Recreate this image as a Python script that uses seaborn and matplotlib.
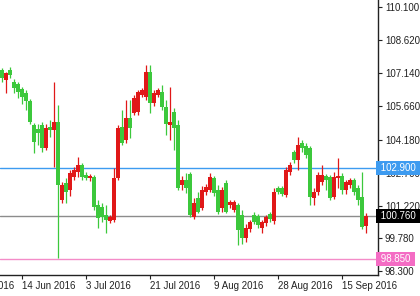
import matplotlib
matplotlib.use("Agg")
import matplotlib.pyplot as plt
import matplotlib.transforms as mtransforms
import numpy as np
import pandas as pd
import seaborn as sns

# ---- data (USD/JPY daily candles) ----
opens = [107.29,106.84,107.29,106.75,106.66,106.44,106.26,105.90,104.83,104.65,
         104.83,103.81,104.74,104.61,104.97,101.48,102.24,101.93,102.51,102.73,
         103.05,102.60,102.47,102.51,101.26,101.17,100.81,100.55,100.59,102.47,
         104.74,104.16,105.14,105.37,105.41,106.17,106.08,107.20,105.81,106.17,
         106.31,105.64,104.83,105.41,104.83,102.15,102.38,102.65,100.72,101.57,
         101.13,101.84,101.93,102.47,101.93,101.13,102.24,101.26,101.04,101.26,
         100.81,99.79,100.19,100.81,100.77,100.23,100.46,100.86,100.55,102.02,
         102.02,101.71,102.73,103.63,103.27,104.03,103.90,103.81,101.57,101.84,
         102.29,102.56,102.51,101.62,102.47,102.56,101.93,102.15,102.38,102.02,
         101.62,100.32]
highs = [107.38,107.20,107.42,106.89,106.75,106.53,106.39,105.99,104.92,104.88,
         104.97,104.88,105.05,106.75,105.73,102.29,102.47,102.82,102.96,103.40,
         103.14,102.73,102.65,102.60,101.48,101.35,101.26,100.81,102.91,104.83,
         105.50,105.95,105.95,106.17,106.39,106.48,107.51,107.51,106.39,106.48,
         106.62,105.95,106.53,105.59,105.05,102.56,102.69,102.73,101.57,101.84,
         102.11,102.20,102.69,102.56,102.15,102.06,102.38,101.48,101.48,101.35,
         101.04,100.41,100.59,100.95,100.86,100.59,100.81,100.95,102.02,102.11,
         102.11,102.96,103.18,103.72,104.30,104.16,104.03,103.90,102.02,102.73,
         103.05,102.65,102.60,102.73,103.36,102.69,102.38,102.47,102.47,102.15,
         102.73,100.90]
lows = [106.75,106.26,106.93,106.26,106.04,105.77,105.50,104.88,103.58,103.94,
        103.63,103.72,104.30,102.96,98.90,101.35,101.35,101.66,102.38,102.51,
        102.38,102.38,102.33,101.04,100.23,100.50,100.01,100.46,100.50,102.38,
        103.94,104.03,104.25,105.28,105.28,106.08,105.95,105.37,105.68,106.08,
        105.50,104.39,104.16,103.72,101.93,101.93,101.80,100.72,100.64,100.90,
        101.04,101.71,101.84,101.66,100.86,100.95,100.90,101.13,100.95,99.48,
        99.52,99.61,100.06,100.41,100.23,100.01,100.32,100.50,100.41,101.75,
        101.66,101.62,102.60,103.14,102.82,103.63,103.36,101.26,101.26,101.71,
        102.15,101.93,101.48,101.53,102.02,101.75,101.75,102.02,101.71,101.26,
        100.19,100.01]
closes = [106.93,107.15,107.06,106.48,106.31,106.08,105.90,104.97,104.07,104.48,
          103.81,104.70,104.61,104.97,102.15,102.15,101.84,102.69,102.82,103.05,
          102.51,102.47,102.56,101.17,100.68,100.72,100.59,100.72,102.47,104.70,
          104.03,105.14,104.70,106.04,106.31,106.39,107.20,105.81,106.26,106.39,
          105.64,104.88,104.97,104.70,102.02,102.38,102.02,100.81,101.35,100.95,
          101.93,102.06,102.51,101.80,100.95,101.93,100.95,101.39,101.39,100.15,
          99.79,100.23,100.50,100.50,100.37,100.50,100.72,100.64,101.84,101.84,
          101.75,102.82,103.05,103.27,103.94,103.81,103.49,101.62,101.84,102.60,
          102.60,102.38,101.57,102.51,102.56,101.93,102.29,102.38,101.84,101.48,
          100.28,100.76]

date_tick_bars = [-11, 5, 21, 37, 53, 69, 85]
date_tick_labels = ["26 May 2016", "14 Jun 2016", "3 Jul 2016", "21 Jul 2016",
                    "9 Aug 2016", "28 Aug 2016", "15 Sep 2016"]
price_ticks = [110.100, 108.620, 107.140, 105.660, 104.180, 102.700,
               101.220, 99.780, 98.300]

level_values = [102.900, 100.760, 98.850]
level_line_colors = ["#3d9bf0", "#8c8c8c", "#f48cc8"]
level_box_colors = ["#3d9bf0", "#000000", "#f46cc4"]

UP = "#e01818"
DOWN = "#3cc83c"

# ---- build frame ----
df = pd.DataFrame({"bar": np.arange(len(opens)), "open": opens, "high": highs,
                   "low": lows, "close": closes})
df["up"] = df["close"] >= df["open"]
df["color"] = np.where(df["up"], UP, DOWN)
df["bottom"] = df[["open", "close"]].min(axis=1)
df["height"] = (df["close"] - df["open"]).abs().clip(lower=0.05)

sns.set_theme(style="white")
plt.rcParams["font.family"] = ["Liberation Sans", "DejaVu Sans"]

fig = plt.figure(figsize=(4.2, 2.96), dpi=100)
ax = fig.add_axes([0.0, 21 / 296, 378 / 420, 1 - 21 / 296])

# wicks
ax.vlines(df["bar"], df["low"], df["high"], colors=df["color"], linewidth=0.9, zorder=2)
# bodies
ax.bar(df["bar"], df["height"], bottom=df["bottom"], width=0.78,
       color=df["color"], linewidth=0, zorder=3)

# horizontal levels
for v, c in zip(level_values, level_line_colors):
    ax.axhline(v, color=c, linewidth=1.0, zorder=1)

ax.set_xlim(-0.5, 94)
ax.set_ylim(98.136, 110.41)

# spines
for s in ["left", "top"]:
    ax.spines[s].set_visible(False)
for s in ["right", "bottom"]:
    ax.spines[s].set_visible(True)
    ax.spines[s].set_color("#222222")
    ax.spines[s].set_linewidth(1.0)

ax.yaxis.tick_right()
ax.set_yticks(price_ticks)
ax.set_yticklabels([f"{t:.3f}" for t in price_ticks])
ax.tick_params(axis="y", which="both", right=True, left=False, length=3,
               width=0.8, color="#222222", pad=2, labelsize=7, labelcolor="#222222",
               direction="out")

vis_bars = [b for b in date_tick_bars if b >= 0]
vis_labels = [l for b, l in zip(date_tick_bars, date_tick_labels) if b >= 0]
ax.set_xticks(vis_bars)
ax.set_xticklabels(vis_labels)
ax.tick_params(axis="x", which="both", bottom=True, length=3, width=0.8,
               color="#222222", pad=1.5, labelsize=7, labelcolor="#222222",
               direction="out")
for lbl in ax.get_xticklabels():
    lbl.set_horizontalalignment("left")

# partially visible label left of the plot
for b, l in zip(date_tick_bars, date_tick_labels):
    if b < 0:
        ax.annotate(l, xy=(b, 0), xycoords=("data", "axes fraction"),
                    xytext=(0, -4.5), textcoords="offset points",
                    ha="left", va="top", fontsize=7, color="#222222",
                    annotation_clip=False)

ax.set_xlabel("")
ax.set_ylabel("")
ax.grid(False)

# price level boxes on the right axis
trans = mtransforms.blended_transform_factory(ax.transAxes, ax.transData)
for v, c in zip(level_values, level_box_colors):
    ax.text(1.0, v, f" {v:.3f} ", transform=trans, ha="left", va="center",
            fontsize=7, color="white", zorder=10, clip_on=False,
            bbox=dict(boxstyle="square,pad=0.2", facecolor=c, edgecolor="none"))

fig.savefig("out.png", dpi=100)
